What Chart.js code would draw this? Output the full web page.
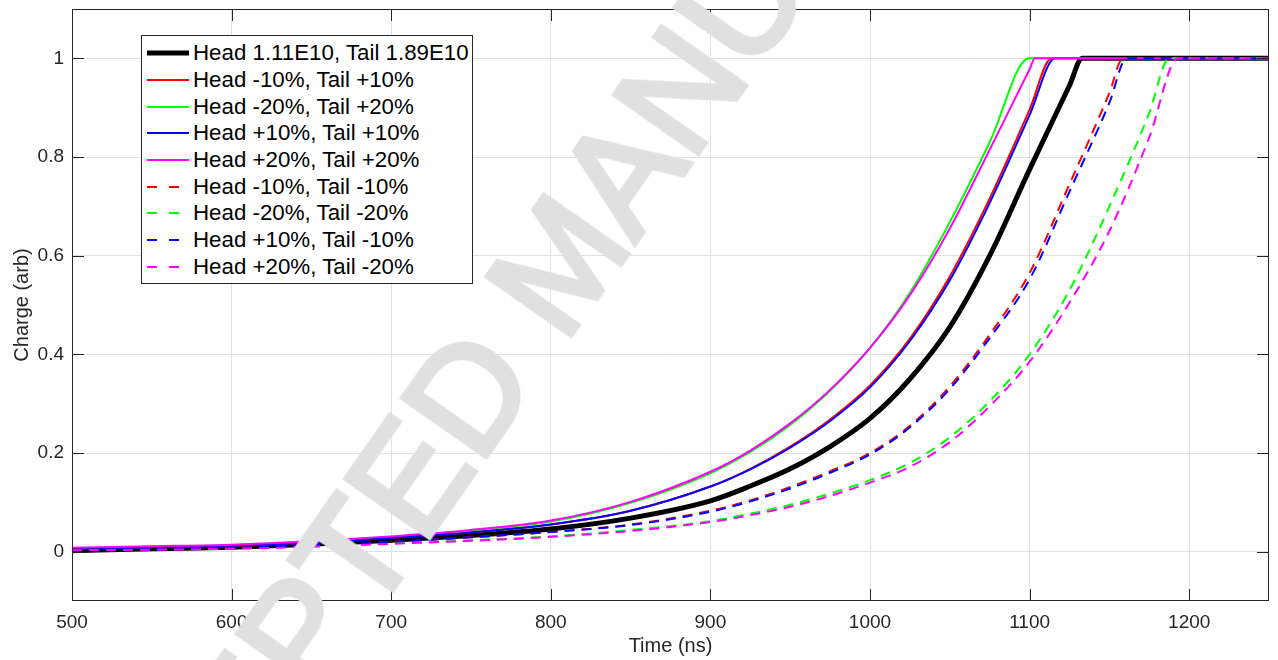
<!DOCTYPE html>
<html>
<head>
<meta charset="utf-8">
<script src="https://cdn.jsdelivr.net/npm/chart.js@4/dist/chart.umd.min.js"></script>
<style>
  body { margin: 0; background: #fff; font-family: "Liberation Sans", Arial, sans-serif; }
  #wrap { position: relative; width: 1278px; height: 660px; overflow: hidden; }
  #legend { position: absolute; left: 141px; top: 35px; width: 332px; height: 249px; box-sizing: border-box;
            border: 1px solid #262626; background: #fff; padding-top: 4px; }
  .row { height: 26.7px; display: flex; align-items: center; }
  .row svg { margin-left: 5px; width: 42px; height: 10px; flex: none; }
  .row span { margin-left: 4px; font-size: 22.3px; color: #000; white-space: nowrap; }
  #wm { position: absolute; left: 560px; top: 262px; font-size: 148px; line-height: 1; color: #e0e0e0;
        -webkit-text-stroke: 5px #e0e0e0; white-space: nowrap; pointer-events: none;
        transform: translate(-50%, -50%) rotate(-55deg); }
</style>
</head>
<body>
<div id="wrap">
  <canvas id="ch"></canvas>
  <div id="legend"></div>
  <div id="wm">ACCEPTED MANUSCRIPT</div>
</div>
<script>
// sample times (ns) shared by all curves; each curve uses as many as it needs before it reaches 1
const timeNs = [500, 550, 600, 650, 700, 750, 800, 850, 900, 925, 950, 975, 1000, 1025, 1050, 1075, 1100, 1125, 1150, 1175];
const xEnd = 1250;

const seriesLabels = [
  'Head 1.11E10, Tail 1.89E10',
  'Head -10%, Tail +10%',
  'Head -20%, Tail +20%',
  'Head +10%, Tail +10%',
  'Head +20%, Tail +20%',
  'Head -10%, Tail -10%',
  'Head -20%, Tail -20%',
  'Head +10%, Tail -10%',
  'Head +20%, Tail -20%'
];
const seriesColors = ['#000000', '#ff0000', '#00ff00', '#0000ff', '#ff00ff', '#ff0000', '#00ff00', '#0000ff', '#ff00ff'];
const seriesDashed = [false, false, false, false, false, true, true, true, true];

// time (ns) at which each curve saturates at 1
const reachOne = [1133, 1113.8, 1099.6, 1116, 1103.4, 1158.5, 1187.5, 1160.8, 1193];

const nominal        = [.002, .006, .009, .015, .023, .033, .046, .068, .103, .133, .168, .213, .27, .35, .455, .60, .775, .945];
const headM10TailP10 = [.006, .009, .012, .018, .028, .039, .055, .083, .132, .168, .213, .268, .337, .432, .558, .716, .896];
const headM20TailP20 = [.007, .010, .013, .020, .030, .043, .061, .099, .159, .202, .257, .326, .413, .525, .668, .830];
const headP10TailP10 = [.006, .009, .012, .018, .028, .039, .055, .083, .132, .167, .211, .265, .333, .427, .550, .707, .885];
const headP20TailP20 = [.008, .011, .014, .021, .031, .044, .063, .101, .162, .205, .260, .328, .413, .520, .655, .815, .978];
const headM10TailM10 = [.004, .006, .008, .013, .020, .029, .040, .055, .083, .104, .131, .163, .200, .255, .335, .440, .565, .745, .930];
const headM20TailM20 = [.003, .005, .007, .011, .017, .023, .031, .044, .062, .077, .095, .118, .145, .180, .232, .305, .400, .530, .700, .890];
const headP10TailM10 = [.004, .006, .008, .013, .020, .029, .040, .054, .081, .102, .128, .160, .197, .252, .330, .433, .552, .730, .910];
const headP20TailM20 = [.003, .004, .006, .010, .016, .022, .030, .042, .060, .074, .091, .113, .140, .172, .222, .295, .385, .505, .650, .840];

const seriesValues = [nominal, headM10TailP10, headM20TailP20, headP10TailP10, headP20TailP20,
                      headM10TailM10, headM20TailM20, headP10TailM10, headP20TailM20];

const xTicks = [500, 600, 700, 800, 900, 1000, 1100, 1200];
const xTickLabels = ['500', '600', '700', '800', '900', '1000', '1100', '1200'];
const yTicks = [0, 0.2, 0.4, 0.6, 0.8, 1];
const yTickLabels = ['0', '0.2', '0.4', '0.6', '0.8', '1'];

const AXIS = '#262626';
Chart.defaults.font.family = '"Liberation Sans", Arial, sans-serif';
Chart.defaults.color = AXIS;

const datasets = seriesValues.map((vals, k) => ({
  label: seriesLabels[k],
  data: vals.map((v, i) => ({ x: timeNs[i], y: v })).concat([{ x: reachOne[k], y: 1 }, { x: xEnd, y: 1 }]),
  borderColor: seriesColors[k],
  borderWidth: k === 0 ? 5 : 2,
  borderDash: seriesDashed[k] ? [10, 7] : [],
  pointRadius: 0,
  cubicInterpolationMode: 'monotone',
  fill: false,
  order: seriesLabels.length - k
}));

// matlab-like box with inward ticks on all four sides
const boxTicks = {
  id: 'boxTicks',
  afterDraw(chart) {
    const { ctx, chartArea: a, scales: { x, y } } = chart;
    const line = (x1, y1, x2, y2) => { ctx.beginPath(); ctx.moveTo(x1, y1); ctx.lineTo(x2, y2); ctx.stroke(); };
    ctx.save();
    ctx.strokeStyle = AXIS; ctx.lineWidth = 1;
    ctx.strokeRect(Math.round(a.left) + 0.5, Math.round(a.top) + 0.5, Math.round(a.right - a.left) - 1, Math.round(a.bottom - a.top) - 1);
    xTicks.forEach(v => {
      const p = Math.round(x.getPixelForValue(v)) + 0.5;
      line(p, a.bottom, p, a.bottom - 12); line(p, a.top, p, a.top + 12);
    });
    yTicks.forEach(v => {
      const p = Math.round(y.getPixelForValue(v)) + 0.5;
      line(a.left, p, a.left + 12, p); line(a.right, p, a.right - 12, p);
    });
    ctx.restore();
  }
};

const noPad = s => { s.paddingTop = 0; s.paddingBottom = 0; s.paddingLeft = 0; s.paddingRight = 0; };

new Chart(document.getElementById('ch'), {
  type: 'line',
  data: { datasets },
  options: {
    responsive: true, maintainAspectRatio: false, animation: false,
    layout: { padding: { left: 0, right: 9, top: 9, bottom: 0 } },
    plugins: { legend: { display: false }, tooltip: { enabled: false } },
    scales: {
      x: {
        type: 'linear', min: 500, max: xEnd,
        afterBuildTicks: s => { s.ticks = xTicks.map(v => ({ value: v })); },
        afterFit: s => { s.height = 59; noPad(s); },
        grid: { color: '#e0e0e0', drawTicks: false },
        border: { display: false },
        ticks: { font: { size: 19 }, padding: 10, maxRotation: 0, autoSkip: false, callback: (v, i) => xTickLabels[i] },
        title: { display: true, text: 'Time (ns)', font: { size: 20 }, padding: { top: 0, bottom: 2 } }
      },
      y: {
        type: 'linear', min: -0.1, max: 1.1,
        afterBuildTicks: s => { s.ticks = yTicks.map(v => ({ value: v })); },
        afterFit: s => { s.width = 72; noPad(s); },
        grid: { color: '#e0e0e0', drawTicks: false },
        border: { display: false },
        ticks: { font: { size: 19 }, padding: 8, callback: (v, i) => yTickLabels[i] },
        title: { display: true, text: 'Charge (arb)', font: { size: 20 }, padding: { top: 10, bottom: 0 } }
      }
    }
  },
  plugins: [boxTicks]
});

// legend box
const legendEl = document.getElementById('legend');
seriesLabels.forEach((lab, k) => {
  const dash = seriesDashed[k] ? ' stroke-dasharray="10,12"' : '';
  const w = k === 0 ? 5 : 2;
  legendEl.insertAdjacentHTML('beforeend',
    `<div class="row"><svg viewBox="0 0 42 10"><line x1="0" y1="5" x2="42" y2="5" stroke="${seriesColors[k]}" stroke-width="${w}"${dash}/></svg><span>${lab}</span></div>`);
});
</script>
</body>
</html>
